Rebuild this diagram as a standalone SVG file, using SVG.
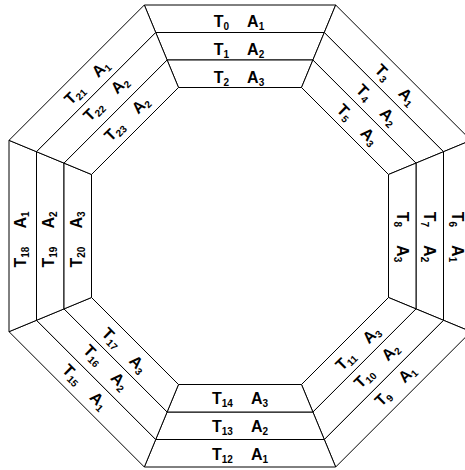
<svg xmlns="http://www.w3.org/2000/svg" width="465" height="470" viewBox="0 0 465 470">
<style>
.band{fill:#fff;stroke:#000;stroke-width:1;stroke-linejoin:miter}
.lbl{font-family:"Liberation Sans",Arial,sans-serif;font-weight:bold;font-size:16px;fill:#000;text-anchor:middle}
.s{font-size:10px}
</style>
<rect width="465" height="470" fill="#fff"/>
<g id="connectors"></g>
<g id="top">
<g id="n0"><polygon class="band" points="144.32,5 335.68,5 324.29,32.5 155.71,32.5"/><text class="lbl" transform="translate(239 21.5)" y="5.7">T<tspan class="s" dy="3">0</tspan><tspan dx="18" dy="-3">A</tspan><tspan class="s" dy="3">1</tspan></text></g>
<g id="n1"><polygon class="band" points="155.71,32.5 324.29,32.5 312.9,60 167.1,60"/><text class="lbl" transform="translate(239 49.5)" y="5.7">T<tspan class="s" dy="3">1</tspan><tspan dx="18" dy="-3">A</tspan><tspan class="s" dy="3">2</tspan></text></g>
<g id="n2"><polygon class="band" points="167.1,60 312.9,60 301.51,87.5 178.49,87.5"/><text class="lbl" transform="translate(239 77.2)" y="5.7">T<tspan class="s" dy="3">2</tspan><tspan dx="18" dy="-3">A</tspan><tspan class="s" dy="3">3</tspan></text></g>
</g>
<g id="topright">
<g id="n3"><polygon class="band" points="335.68,5 471,140.32 443.5,151.71 324.29,32.5"/><text class="lbl" transform="translate(395.7 84.5) rotate(45)" y="5.7">T<tspan class="s" dy="3">3</tspan><tspan dx="18" dy="-3">A</tspan><tspan class="s" dy="3">1</tspan></text></g>
<g id="n4"><polygon class="band" points="324.29,32.5 443.5,151.71 416,163.1 312.9,60"/><text class="lbl" transform="translate(377 104.6) rotate(45)" y="5.7">T<tspan class="s" dy="3">4</tspan><tspan dx="18" dy="-3">A</tspan><tspan class="s" dy="3">2</tspan></text></g>
<g id="n5"><polygon class="band" points="312.9,60 416,163.1 388.5,174.49 301.51,87.5"/><text class="lbl" transform="translate(357.7 124.3) rotate(45)" y="5.7">T<tspan class="s" dy="3">5</tspan><tspan dx="18" dy="-3">A</tspan><tspan class="s" dy="3">3</tspan></text></g>
</g>
<g id="right">
<g id="n6"><polygon class="band" points="471,140.32 471,331.68 443.5,320.29 443.5,151.71"/><text class="lbl" transform="translate(457.25 237) rotate(90)" y="5.7">T<tspan class="s" dy="3">6</tspan><tspan dx="18" dy="-3">A</tspan><tspan class="s" dy="3">1</tspan></text></g>
<g id="n7"><polygon class="band" points="443.5,151.71 443.5,320.29 416,308.9 416,163.1"/><text class="lbl" transform="translate(429.75 237) rotate(90)" y="5.7">T<tspan class="s" dy="3">7</tspan><tspan dx="18" dy="-3">A</tspan><tspan class="s" dy="3">2</tspan></text></g>
<g id="n8"><polygon class="band" points="416,163.1 416,308.9 388.5,297.51 388.5,174.49"/><text class="lbl" transform="translate(402.3 237) rotate(90)" y="5.7">T<tspan class="s" dy="3">8</tspan><tspan dx="18" dy="-3">A</tspan><tspan class="s" dy="3">3</tspan></text></g>
</g>
<g id="bottomright">
<g id="n9"><polygon class="band" points="471,331.68 335.68,467 324.29,439.5 443.5,320.29"/><text class="lbl" transform="translate(395 385.4) rotate(-45)" y="5.7">T<tspan class="s" dy="3">9</tspan><tspan dx="18" dy="-3">A</tspan><tspan class="s" dy="3">1</tspan></text></g>
<g id="n10"><polygon class="band" points="443.5,320.29 324.29,439.5 312.9,412 416,308.9"/><text class="lbl" transform="translate(376.3 365.3) rotate(-45)" y="5.7">T<tspan class="s" dy="3">10</tspan><tspan dx="18" dy="-3">A</tspan><tspan class="s" dy="3">2</tspan></text></g>
<g id="n11"><polygon class="band" points="416,308.9 312.9,412 301.51,384.5 388.5,297.51"/><text class="lbl" transform="translate(357.5 347.9) rotate(-45)" y="5.7">T<tspan class="s" dy="3">11</tspan><tspan dx="18" dy="-3">A</tspan><tspan class="s" dy="3">3</tspan></text></g>
</g>
<g id="bottom">
<g id="n12"><polygon class="band" points="335.68,467 144.32,467 155.71,439.5 324.29,439.5"/><text class="lbl" transform="translate(240 453.8)" y="5.7">T<tspan class="s" dy="3">12</tspan><tspan dx="18" dy="-3">A</tspan><tspan class="s" dy="3">1</tspan></text></g>
<g id="n13"><polygon class="band" points="324.29,439.5 155.71,439.5 167.1,412 312.9,412"/><text class="lbl" transform="translate(240 426.2)" y="5.7">T<tspan class="s" dy="3">13</tspan><tspan dx="18" dy="-3">A</tspan><tspan class="s" dy="3">2</tspan></text></g>
<g id="n14"><polygon class="band" points="312.9,412 167.1,412 178.49,384.5 301.51,384.5"/><text class="lbl" transform="translate(240 398.5)" y="5.7">T<tspan class="s" dy="3">14</tspan><tspan dx="18" dy="-3">A</tspan><tspan class="s" dy="3">3</tspan></text></g>
</g>
<g id="bottomleft">
<g id="n15"><polygon class="band" points="144.32,467 9,331.68 36.5,320.29 155.71,439.5"/><text class="lbl" transform="translate(85.2 386.6) rotate(45)" y="5.7">T<tspan class="s" dy="3">15</tspan><tspan dx="18" dy="-3">A</tspan><tspan class="s" dy="3">1</tspan></text></g>
<g id="n16"><polygon class="band" points="155.71,439.5 36.5,320.29 64,308.9 167.1,412"/><text class="lbl" transform="translate(106.1 367.1) rotate(45)" y="5.7">T<tspan class="s" dy="3">16</tspan><tspan dx="18" dy="-3">A</tspan><tspan class="s" dy="3">2</tspan></text></g>
<g id="n17"><polygon class="band" points="167.1,412 64,308.9 91.5,297.51 178.49,384.5"/><text class="lbl" transform="translate(124.6 350) rotate(45)" y="5.7">T<tspan class="s" dy="3">17</tspan><tspan dx="18" dy="-3">A</tspan><tspan class="s" dy="3">3</tspan></text></g>
</g>
<g id="left">
<g id="n18"><polygon class="band" points="9,331.68 9,140.32 36.5,151.71 36.5,320.29"/><text class="lbl" transform="translate(20.7 239.5) rotate(-90)" y="5.7">T<tspan class="s" dy="3">18</tspan><tspan dx="18" dy="-3">A</tspan><tspan class="s" dy="3">1</tspan></text></g>
<g id="n19"><polygon class="band" points="36.5,320.29 36.5,151.71 64,163.1 64,308.9"/><text class="lbl" transform="translate(48.3 239.5) rotate(-90)" y="5.7">T<tspan class="s" dy="3">19</tspan><tspan dx="18" dy="-3">A</tspan><tspan class="s" dy="3">2</tspan></text></g>
<g id="n20"><polygon class="band" points="64,308.9 64,163.1 91.5,174.49 91.5,297.51"/><text class="lbl" transform="translate(75.8 239.5) rotate(-90)" y="5.7">T<tspan class="s" dy="3">20</tspan><tspan dx="18" dy="-3">A</tspan><tspan class="s" dy="3">3</tspan></text></g>
</g>
<g id="topleft">
<g id="n21"><polygon class="band" points="9,140.32 144.32,5 155.71,32.5 36.5,151.71"/><text class="lbl" transform="translate(86.5 81.9) rotate(-45)" y="5.7">T<tspan class="s" dy="3">21</tspan><tspan dx="18" dy="-3">A</tspan><tspan class="s" dy="3">1</tspan></text></g>
<g id="n22"><polygon class="band" points="36.5,151.71 155.71,32.5 167.1,60 64,163.1"/><text class="lbl" transform="translate(105.6 98.5) rotate(-45)" y="5.7">T<tspan class="s" dy="3">22</tspan><tspan dx="18" dy="-3">A</tspan><tspan class="s" dy="3">2</tspan></text></g>
<g id="n23"><polygon class="band" points="64,163.1 167.1,60 178.49,87.5 91.5,174.49"/><text class="lbl" transform="translate(126.5 118.5) rotate(-45)" y="5.7">T<tspan class="s" dy="3">23</tspan><tspan dx="18" dy="-3">A</tspan><tspan class="s" dy="3">2</tspan></text></g>
</g>
</svg>
